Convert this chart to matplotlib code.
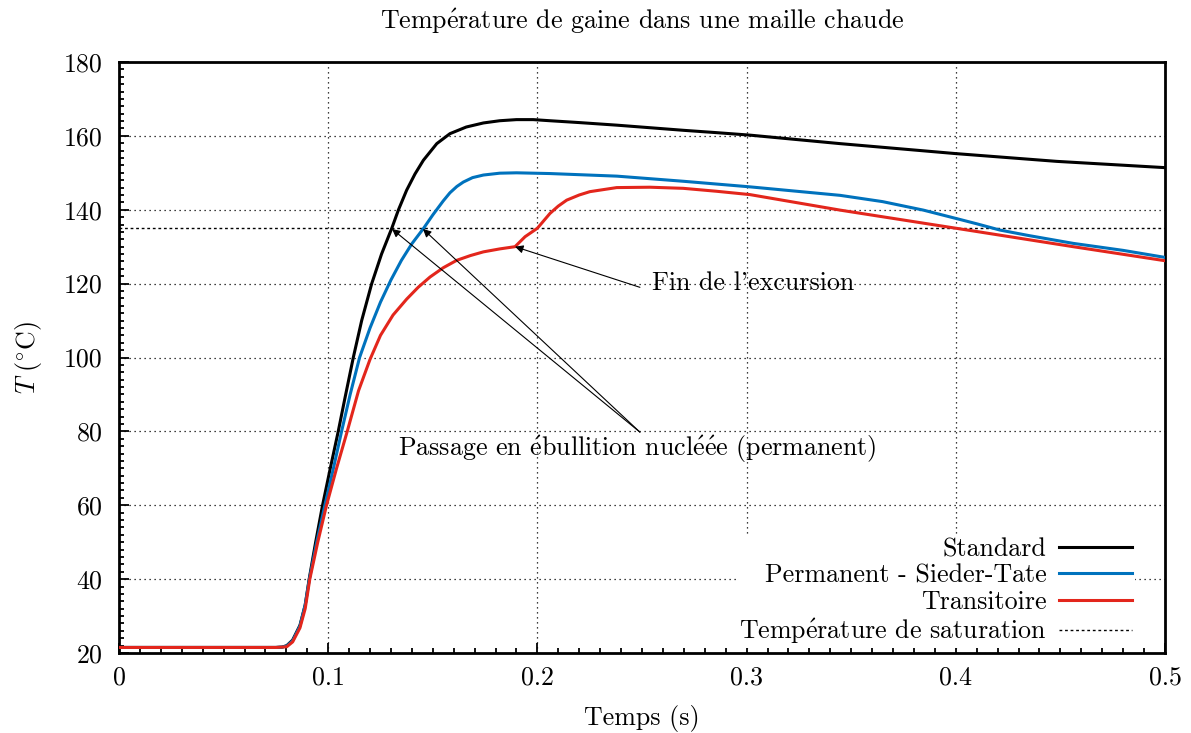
import matplotlib
matplotlib.use("Agg")
import matplotlib.pyplot as plt
from matplotlib.ticker import MultipleLocator, FormatStrFormatter

plt.rcParams["font.family"] = ["cmr10", "DejaVu Serif"]
plt.rcParams["mathtext.fontset"] = "cm"
plt.rcParams["axes.formatter.use_mathtext"] = True

E = r"$\acute{\mathrm{e}}$"

# Standard
t_std = [0.0, 0.075, 0.078, 0.0802, 0.083, 0.0865, 0.089, 0.0909, 0.094, 0.0973,
         0.101, 0.1048, 0.108, 0.112, 0.116, 0.1208, 0.1255, 0.1304, 0.1336,
         0.1375, 0.1415, 0.1455, 0.1519, 0.1582, 0.166, 0.1742, 0.182, 0.19,
         0.198, 0.206, 0.22, 0.238, 0.254, 0.27, 0.285, 0.3016, 0.3447, 0.4,
         0.4482, 0.5]
T_std = [21.5, 21.5, 21.6, 22.0, 23.5, 27.5, 33.0, 40.0, 50.0, 60.0,
         70.0, 80.0, 89.0, 100.0, 110.0, 120.0, 128.0, 135.0, 140.0,
         145.3, 149.7, 153.4, 157.9, 160.6, 162.4, 163.5, 164.1, 164.4,
         164.4, 164.1, 163.6, 162.9, 162.2, 161.5, 160.9, 160.2, 157.9, 155.2,
         153.1, 151.4]

# Permanent - Sieder-Tate
t_st = [0.0, 0.075, 0.078, 0.0802, 0.083, 0.0865, 0.089, 0.091, 0.0945, 0.0984,
        0.1025, 0.1064, 0.1105, 0.115, 0.12, 0.125, 0.13, 0.135, 0.14,
        0.1455, 0.15, 0.155, 0.1582, 0.1615, 0.1646, 0.169, 0.1742, 0.182,
        0.19, 0.206, 0.238, 0.27, 0.3016, 0.3447, 0.365, 0.3845, 0.4004,
        0.41, 0.4211, 0.435, 0.4561, 0.48, 0.5]
T_st = [21.5, 21.5, 21.6, 21.9, 23.3, 27.3, 33.0, 40.0, 50.0, 60.0,
        70.0, 80.0, 90.0, 100.0, 108.0, 115.0, 121.0, 126.3, 130.8,
        134.9, 138.6, 142.4, 144.6, 146.3, 147.5, 148.7, 149.4, 149.9,
        150.0, 149.8, 149.1, 147.7, 146.2, 143.9, 142.2, 139.9, 137.6,
        136.2, 134.5, 133.0, 130.9, 129.0, 127.1]

# Transitoire
t_tr = [0.0, 0.075, 0.078, 0.0802, 0.083, 0.0865, 0.089, 0.0912, 0.095, 0.0992,
        0.104, 0.1091, 0.1145, 0.12, 0.125, 0.131, 0.1375, 0.143, 0.1487,
        0.155, 0.1614, 0.168, 0.1742, 0.182, 0.1893, 0.1941, 0.2, 0.206,
        0.21, 0.214, 0.22, 0.2251, 0.2379, 0.2538, 0.2697, 0.2857, 0.3016,
        0.3447, 0.4, 0.4561, 0.5]
T_tr = [21.5, 21.5, 21.6, 21.7, 23.0, 26.8, 32.0, 40.0, 50.0, 60.0,
        70.0, 80.0, 91.0, 99.5, 106.0, 111.5, 115.8, 119.0, 121.8,
        124.3, 126.3, 127.6, 128.6, 129.4, 130.0, 132.7, 135.0, 139.0,
        141.0, 142.6, 144.0, 144.9, 146.0, 146.1, 145.8, 145.0, 144.1,
        139.9, 135.0, 130.0, 126.2]

T_SAT = 135.0
X_SAT = [0.0, 0.5]

FS = 18.7

fig = plt.figure(figsize=(11.91, 7.33), dpi=100)
ax = fig.add_axes([119 / 1191, 1 - 653 / 733, 1046 / 1191, 591 / 733])

ax.plot(t_std, T_std, color="black", lw=2.2, label="Standard", zorder=3)
ax.plot(t_st, T_st, color="#0072bd", lw=2.2, label="Permanent - Sieder-Tate", zorder=3)
ax.plot(t_tr, T_tr, color="#e3261c", lw=2.2, label="Transitoire", zorder=3)
ax.plot(X_SAT, [T_SAT, T_SAT], color="black", lw=1.0, ls=(0, (2, 2)),
        label=f"Temp{E}rature de saturation", zorder=2)

ax.set_xlim(0, 0.5)
ax.set_ylim(20, 180)
ax.xaxis.set_major_locator(MultipleLocator(0.1))
ax.xaxis.set_minor_locator(MultipleLocator(0.01))
ax.yaxis.set_major_locator(MultipleLocator(20))
ax.yaxis.set_minor_locator(MultipleLocator(2))
ax.xaxis.set_major_formatter(FormatStrFormatter("%g"))
ax.yaxis.set_major_formatter(FormatStrFormatter("%g"))
ax.tick_params(which="both", direction="in", top=False, right=False,
               labelsize=FS, width=1.3)
ax.tick_params(axis="x", which="major", length=7, pad=9)
ax.tick_params(axis="y", which="major", length=7, pad=12)
ax.tick_params(which="minor", length=3.5)
for s in ax.spines.values():
    s.set_linewidth(2)

ax.grid(True, which="major", color="black", lw=0.9, ls=(0, (1, 3)), zorder=1)
ax.set_axisbelow(True)

ax.set_xlabel("Temps (s)", fontsize=FS, labelpad=11)
ax.set_ylabel(r"$T\ (^{\circ}\mathrm{C})$", fontsize=FS, labelpad=14)
ax.set_title(f"Temp{E}rature de gaine dans une maille chaude", fontsize=FS, pad=24)

arrow = dict(arrowstyle="-|>", color="black", lw=0.8, mutation_scale=12,
             shrinkA=0, shrinkB=0)
ax.annotate("", xy=(0.1893, 130.0), xytext=(0.249, 119.0), arrowprops=arrow)
ax.text(0.2548, 120.1, "Fin de l'excursion", fontsize=FS, va="center", ha="left")
ax.annotate("", xy=(0.1305, 134.8), xytext=(0.249, 79.8), arrowprops=arrow)
ax.annotate("", xy=(0.1453, 134.8), xytext=(0.249, 79.8), arrowprops=arrow)
ax.text(0.1334, 75.2, f"Passage en {E}bullition nucl{E}{E}e (permanent)",
        fontsize=FS, va="center", ha="left")

leg = ax.legend(loc="lower right", bbox_to_anchor=(0.971, 0.008), fontsize=FS,
                markerfirst=False, frameon=True, fancybox=False, framealpha=1,
                handlelength=2.8, labelspacing=0.1, borderaxespad=0,
                borderpad=0.1, handletextpad=0.5)
leg.get_frame().set_edgecolor("none")
leg.get_frame().set_facecolor("white")
leg.set_zorder(2.5)

fig.savefig("out.png", dpi=100)
